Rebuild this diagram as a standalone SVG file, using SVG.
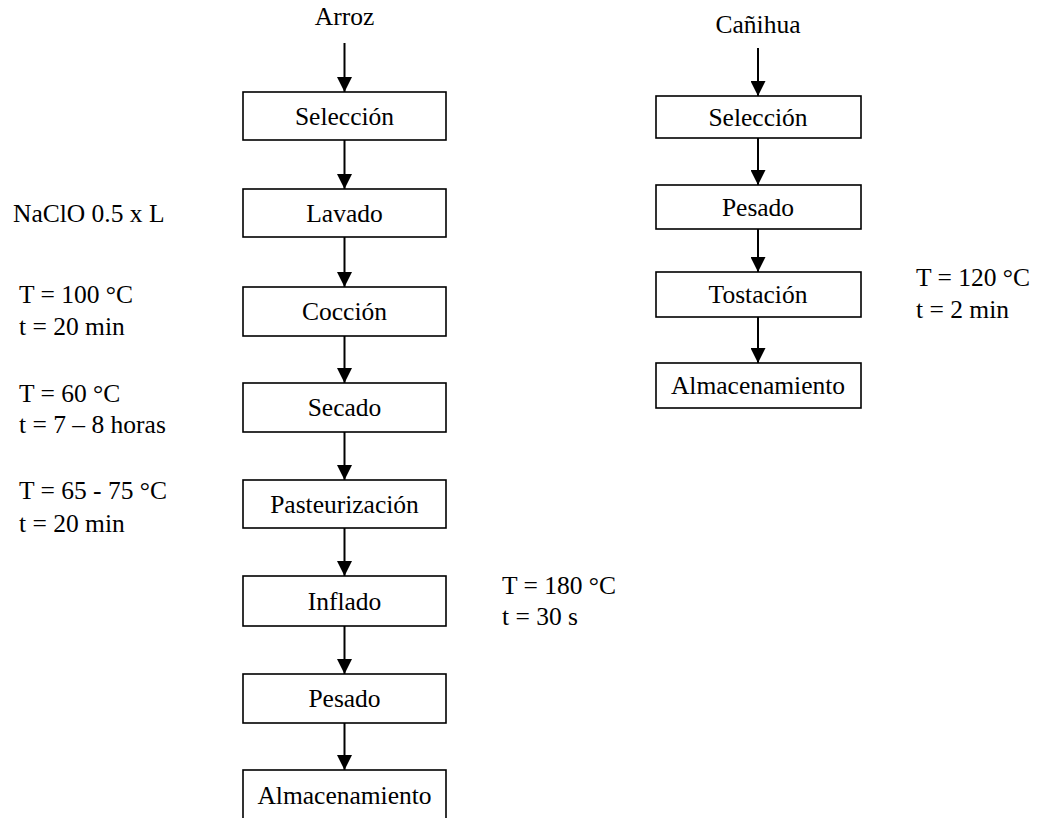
<svg xmlns="http://www.w3.org/2000/svg" width="1044" height="818" viewBox="0 0 1044 818">
<style>
  text { font-family: "Liberation Serif", serif; font-size: 25.5px; fill: #000; }
  .c { text-anchor: middle; }
  .box { fill: #fff; stroke: #000; stroke-width: 1.6; }
  .con { stroke: #000; stroke-width: 2; fill: none; }
</style>
<defs>
  <marker id="ah" markerWidth="15" markerHeight="15" viewBox="0 0 15 15" refX="15" refY="7.5" orient="auto" markerUnits="userSpaceOnUse">
    <path d="M0,0 L15,7.5 L0,15 Z" fill="#000"/>
  </marker>
</defs>
<rect width="1044" height="818" fill="#fff"/>
<g id="connectors">
  <line class="con" x1="344.5" y1="43" x2="344.5" y2="92" marker-end="url(#ah)"/>
  <line class="con" x1="344.5" y1="140" x2="344.5" y2="189" marker-end="url(#ah)"/>
  <line class="con" x1="344.5" y1="237" x2="344.5" y2="287" marker-end="url(#ah)"/>
  <line class="con" x1="344.5" y1="336" x2="344.5" y2="383" marker-end="url(#ah)"/>
  <line class="con" x1="344.5" y1="432" x2="344.5" y2="480" marker-end="url(#ah)"/>
  <line class="con" x1="344.5" y1="528" x2="344.5" y2="576" marker-end="url(#ah)"/>
  <line class="con" x1="344.5" y1="626" x2="344.5" y2="674" marker-end="url(#ah)"/>
  <line class="con" x1="344.5" y1="723" x2="344.5" y2="770" marker-end="url(#ah)"/>
  <line class="con" x1="758" y1="48" x2="758" y2="96" marker-end="url(#ah)"/>
  <line class="con" x1="758" y1="138" x2="758" y2="185" marker-end="url(#ah)"/>
  <line class="con" x1="758" y1="229" x2="758" y2="272" marker-end="url(#ah)"/>
  <line class="con" x1="758" y1="317" x2="758" y2="363" marker-end="url(#ah)"/>
</g>
<g id="arroz"><text class="c" x="344.5" y="25">Arroz</text></g>
<g id="l-seleccion"><rect class="box" x="243" y="92" width="203" height="48"/><text class="c" x="344.5" y="125">Selección</text></g>
<g id="l-lavado"><rect class="box" x="243" y="189" width="203" height="48"/><text class="c" x="344.5" y="222">Lavado</text></g>
<g id="l-coccion"><rect class="box" x="243" y="287" width="203" height="49"/><text class="c" x="344.5" y="320">Cocción</text></g>
<g id="l-secado"><rect class="box" x="243" y="383" width="203" height="49"/><text class="c" x="344.5" y="416">Secado</text></g>
<g id="l-pasteurizacion"><rect class="box" x="243" y="480" width="203" height="48"/><text class="c" x="344.5" y="513">Pasteurización</text></g>
<g id="l-inflado"><rect class="box" x="243" y="576" width="203" height="50"/><text class="c" x="344.5" y="610">Inflado</text></g>
<g id="l-pesado"><rect class="box" x="243" y="674" width="203" height="49"/><text class="c" x="344.5" y="707">Pesado</text></g>
<g id="l-almacenamiento"><rect class="box" x="243" y="770" width="203" height="60"/><text class="c" x="344.5" y="804">Almacenamiento</text></g>
<g id="canihua"><text class="c" x="758" y="33">Cañihua</text></g>
<g id="r-seleccion"><rect class="box" x="656" y="96" width="205" height="42"/><text class="c" x="758" y="126">Selección</text></g>
<g id="r-pesado"><rect class="box" x="656" y="185" width="205" height="44"/><text class="c" x="758" y="216">Pesado</text></g>
<g id="r-tostacion"><rect class="box" x="656" y="272" width="205" height="45"/><text class="c" x="758" y="303">Tostación</text></g>
<g id="r-almacenamiento"><rect class="box" x="656" y="363" width="205" height="45"/><text class="c" x="758" y="394">Almacenamiento</text></g>
<g id="annotations">
  <text x="13" y="222">NaClO 0.5 x L</text>
  <text x="19" y="303">T = 100 °C</text>
  <text x="19" y="335">t = 20 min</text>
  <text x="19" y="402">T = 60 °C</text>
  <text x="19" y="433">t = 7 – 8 horas</text>
  <text x="19" y="499">T = 65 - 75 °C</text>
  <text x="19" y="532">t = 20 min</text>
  <text x="502" y="594">T = 180 °C</text>
  <text x="502" y="625">t = 30 s</text>
  <text x="916" y="286">T = 120 °C</text>
  <text x="916" y="318">t = 2 min</text>
</g>
</svg>
